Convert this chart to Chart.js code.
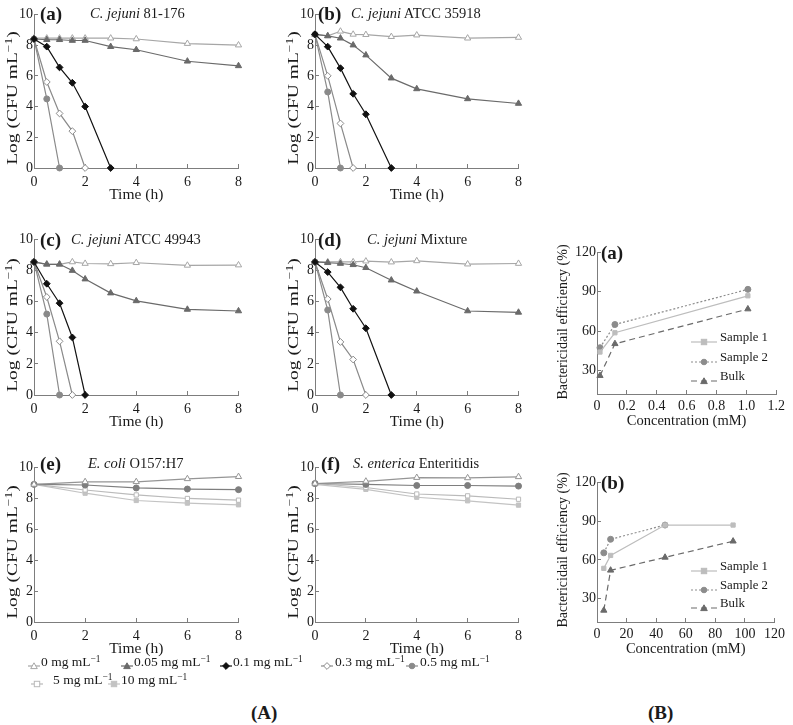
<!DOCTYPE html>
<html>
<head>
<meta charset="utf-8">
<script src="https://cdn.jsdelivr.net/npm/chart.js@4.4.1/dist/chart.umd.min.js"></script>
<style>
  body { margin: 0; background: #fff; }
  #page { position: relative; width: 793px; height: 725px; overflow: hidden;
          font-family: 'Liberation Serif', 'Times New Roman', serif; color: #1a1a1a; }
  #page canvas { position: absolute; }
  .lbl { position: absolute; white-space: nowrap; line-height: 1; }
  .pl { font-weight: bold; font-size: 19px; }
  .ttl { font-size: 14.5px; }
  .lg { font-size: 13.5px; }
  .lgb { font-size: 12.8px; }
  sup { font-size: 70%; line-height: 0; vertical-align: 0.45em; }
  .lgs { position: absolute; }
  .rot { position: absolute; white-space: nowrap; line-height: 1; }
</style>
</head>
<body>
<div id="page"></div>
<script>
// sampling times (h)
const tFull = [0, 0.5, 1, 1.5, 2, 3, 4, 6, 8];
const tCoarse = [0, 2, 4, 6, 8];

// (a) C. jejuni 81-176
const a_0 = [8.45, 8.45, 8.45, 8.45, 8.45, 8.45, 8.4, 8.1, 8.0];
const a_005 = [8.4, 8.35, 8.35, 8.3, 8.3, 7.9, 7.7, 6.95, 6.65];
const a_01 = [8.4, 7.9, 6.55, 5.55, 4.0, 0];
const a_03 = [8.4, 5.6, 3.55, 2.4, 0];
const a_05 = [8.4, 4.5, 0];

// (b) C. jejuni ATCC 35918
const b_0 = [8.7, 8.6, 8.9, 8.7, 8.68, 8.55, 8.65, 8.45, 8.5];
const b_005 = [8.7, 8.6, 8.45, 8.0, 7.35, 5.85, 5.15, 4.5, 4.2];
const b_01 = [8.7, 7.9, 6.5, 4.83, 3.5, 0];
const b_03 = [8.7, 6.0, 2.9, 0];
const b_05 = [8.7, 4.95, 0];

// (c) C. jejuni ATCC 49943
const c_0 = [8.55, 8.4, 8.4, 8.55, 8.45, 8.43, 8.5, 8.33, 8.35];
const c_005 = [8.55, 8.4, 8.4, 8.0, 7.45, 6.55, 6.05, 5.5, 5.4];
const c_01 = [8.55, 7.15, 5.9, 3.7, 0];
const c_03 = [8.55, 6.3, 3.45, 0];
const c_05 = [8.55, 5.2, 0];

// (d) C. jejuni Mixture
const d_0 = [8.55, 8.55, 8.55, 8.55, 8.6, 8.54, 8.62, 8.41, 8.45];
const d_005 = [8.55, 8.5, 8.45, 8.37, 8.18, 7.38, 6.67, 5.4, 5.31];
const d_01 = [8.55, 7.9, 6.92, 5.54, 4.29, 0];
const d_03 = [8.55, 6.17, 3.41, 2.28, 0];
const d_05 = [8.55, 5.46, 0];

// (e) E. coli O157:H7
const e_0 = [8.9, 9.07, 9.07, 9.26, 9.4];
const e_05 = [8.9, 8.86, 8.67, 8.6, 8.56];
const e_5 = [8.9, 8.54, 8.22, 7.99, 7.88];
const e_10 = [8.9, 8.33, 7.86, 7.69, 7.58];

// (f) S. enterica Enteritidis
const f_0 = [8.96, 9.1, 9.34, 9.32, 9.39];
const f_05 = [8.96, 8.9, 8.83, 8.83, 8.79];
const f_5 = [8.96, 8.7, 8.28, 8.16, 7.94];
const f_10 = [8.9, 8.58, 8.07, 7.84, 7.56];

// (B) bactericidal efficiency
const concA = [0.02, 0.12, 1.01];
const ba_s1 = [44, 58.7, 86.9];
const ba_s2 = [47.3, 65, 91.8];
const ba_bulk = [26, 50.3, 76.8];

const concB = [4.6, 9.2, 46, 92];
const bb_s1 = [53.5, 63.5, 87, 87];
const bb_s2 = [65.5, 76, 87];
const bb_bulk = [21, 52, 62, 74.5];

const timeTicks = [0, 2, 4, 6, 8];
const logTicks = [0, 2, 4, 6, 8, 10];
const effTicks = [30, 60, 90, 120];
const concATicks = [0, 0.2, 0.4, 0.6, 0.8, 1.0, 1.2];
const concBTicks = [0, 20, 40, 60, 80, 100, 120];

const FONT = "'Liberation Serif', 'Times New Roman', serif";
const AX = '#7d7d7d', TXT = '#1a1a1a';

const ST = {
  c0:   { color: '#a6a6a6', fill: '#ffffff', point: 'triangle', r: 3.6 },
  c0g:  { color: '#959595', fill: '#ffffff', point: 'triangle', r: 3.6 },
  c005: { color: '#6a6a6a', fill: '#6a6a6a', point: 'triangle', r: 3.6 },
  c01:  { color: '#111111', fill: '#111111', point: 'rectRot', r: 3.4 },
  c03:  { color: '#8a8a8a', fill: '#ffffff', point: 'rectRot', r: 3.4 },
  c05:  { color: '#8a8a8a', fill: '#8a8a8a', point: 'circle', r: 3 },
  c05g: { color: '#7e7e7e', fill: '#7e7e7e', point: 'circle', r: 3 },
  c5:   { color: '#bababa', fill: '#ffffff', point: 'rect', r: 3 },
  c10:  { color: '#c3c3c3', fill: '#c3c3c3', point: 'rect', r: 3 },
  s1:   { color: '#bdbdbd', fill: '#bdbdbd', point: 'rect', r: 3, dash: [] },
  s2:   { color: '#8c8c8c', fill: '#8c8c8c', point: 'circle', r: 3, dash: [2, 2] },
  bulk: { color: '#6a6a6a', fill: '#6a6a6a', point: 'triangle', r: 3.6, dash: [6, 4] }
};

const page = document.getElementById('page');

function ds(label, xs, ys, st) {
  return {
    label,
    data: ys.map((v, i) => ({ x: xs[i], y: v })),
    borderColor: st.color, backgroundColor: st.fill,
    pointBorderColor: st.color, pointBackgroundColor: st.fill,
    pointStyle: st.point, pointRadius: st.r, pointBorderWidth: 1,
    borderWidth: 1.2, borderDash: st.dash || [], tension: 0, clip: false
  };
}

function killSets(v0, v005, v01, v03, v05) {
  return [
    ds('0.1', tFull, v01, ST.c01),
    ds('0.3', tFull, v03, ST.c03),
    ds('0.5', tFull, v05, ST.c05),
    ds('0.05', tFull, v005, ST.c005),
    ds('0', tFull, v0, ST.c0)
  ];
}
function gramNegSets(v0, v05, v5, v10) {
  return [
    ds('0', tCoarse, v0, ST.c0g),
    ds('0.5', tCoarse, v05, ST.c05g),
    ds('5', tCoarse, v5, ST.c5),
    ds('10', tCoarse, v10, ST.c10)
  ];
}

// rect = plot area [left, top, right, bottom] on the page
function plot(rect, o) {
  const [L, T, R, B] = rect.map(Math.round);
  const padT = o.padT ?? 10, padR = o.padR ?? 10;
  const left = L - o.yW, top = T - padT;
  const w = R + padR - left, h = B + o.xH - top;
  const cv = document.createElement('canvas');
  cv.width = w; cv.height = h;
  cv.style.left = left + 'px'; cv.style.top = top + 'px';
  cv.style.width = w + 'px'; cv.style.height = h + 'px';
  page.appendChild(cv);
  const tickFont = { family: FONT, size: o.tickSize || 14 };
  const titleFont = { family: FONT, size: o.titleSize || 15.5 };
  new Chart(cv, {
    type: 'line',
    data: { datasets: o.datasets },
    options: {
      responsive: false, animation: false, devicePixelRatio: 1,
      layout: { padding: { top: padT, right: padR, left: 0, bottom: 0 } },
      plugins: { legend: { display: false }, tooltip: { enabled: false } },
      scales: {
        x: {
          type: 'linear', min: o.xMin, max: o.xMax,
          afterFit: s => { s.height = o.xH; },
          afterBuildTicks: s => { s.ticks = o.xTicks.map(v => ({ value: v })); },
          ticks: { font: tickFont, color: TXT, padding: o.xTickPad ?? 10, maxRotation: 0, autoSkip: false,
                   callback: o.xFmt || (v => String(v)) },
          grid: { drawOnChartArea: false, color: AX, tickLength: -4 },
          border: { color: AX, width: 1 },
          title: { display: !!o.xTitle, text: o.xTitle, font: titleFont, color: TXT,
                   padding: { top: 0, bottom: o.xTitlePad ?? 0 } }
        },
        y: {
          min: o.yMin, max: o.yMax,
          afterFit: s => { s.width = o.yW; },
          afterBuildTicks: s => { s.ticks = o.yTicks.map(v => ({ value: v })); },
          ticks: { font: tickFont, color: TXT, padding: o.yTickPad ?? 5, autoSkip: false },
          grid: { drawOnChartArea: false, color: AX, tickLength: -4 },
          border: { color: AX, width: 1 }
        }
      }
    }
  });
}

function killPlot(rect, sets) {
  plot(rect, {
    datasets: sets, xMin: 0, xMax: 8, yMin: 0, yMax: 10,
    xTicks: timeTicks, yTicks: logTicks, yW: 33, xH: 36, xTitle: 'Time (h)'
  });
}

killPlot([33.5, 11, 242, 168], killSets(a_0, a_005, a_01, a_03, a_05));
killPlot([315, 11, 522, 168], killSets(b_0, b_005, b_01, b_03, b_05));
killPlot([33.5, 236, 242, 395], killSets(c_0, c_005, c_01, c_03, c_05));
killPlot([315, 236, 522, 395], killSets(d_0, d_005, d_01, d_03, d_05));
killPlot([33.5, 464, 242, 622], gramNegSets(e_0, e_05, e_5, e_10));
killPlot([315, 464, 522, 622], gramNegSets(f_0, f_05, f_5, f_10));

function effPlot(rect, xs, s1, s2, bulk, xMax, xTicks, xFmt) {
  plot(rect, {
    datasets: [ds('Sample 1', xs, s1, ST.s1), ds('Sample 2', xs, s2, ST.s2), ds('Bulk', xs, bulk, ST.bulk)],
    xMin: 0, xMax, yMin: 12, yMax: 120, xTicks, yTicks: effTicks, xFmt,
    yW: 30, xH: 36, padR: 12, tickSize: 14, titleSize: 14.5, xTickPad: 8, xTitle: 'Concentration (mM)'
  });
}
effPlot([597, 249, 781, 394], concA, ba_s1, ba_s2, ba_bulk, 1.2, concATicks, v => v === 0 ? '0' : v.toFixed(1));
effPlot([597, 479, 781, 622], concB, bb_s1, bb_s2, bb_bulk, 120, concBTicks, v => String(v));

// text overlays
function lbl(html, x, y, cls) {
  const d = document.createElement('div');
  d.className = 'lbl ' + cls;
  d.innerHTML = html;
  d.style.left = x + 'px'; d.style.top = y + 'px';
  page.appendChild(d);
  return d;
}
lbl('(a)', 40, 4, 'pl');   lbl('<i>C. jejuni</i> 81-176', 90, 6, 'ttl');
lbl('(b)', 318, 4, 'pl');  lbl('<i>C. jejuni</i> ATCC 35918', 351, 6, 'ttl');
lbl('(c)', 40, 230, 'pl'); lbl('<i>C. jejuni</i> ATCC 49943', 71, 232, 'ttl');
lbl('(d)', 318, 230, 'pl'); lbl('<i>C. jejuni</i> Mixture', 367, 232, 'ttl');
lbl('(e)', 40, 454, 'pl'); lbl('<i>E. coli</i> O157:H7', 88, 456, 'ttl');
lbl('(f)', 321, 454, 'pl'); lbl('<i>S. enterica</i> Enteritidis', 353, 456, 'ttl');
lbl('(a)', 601, 243, 'pl');
lbl('(b)', 601, 473, 'pl');
lbl('(A)', 251, 703, 'pl');
lbl('(B)', 648, 703, 'pl');

// rotated axis titles (centre x, centre y, horizontal stretch along the text)
function rot(html, cx, cy, size, stretch) {
  const d = document.createElement('div');
  d.className = 'rot'; d.innerHTML = html;
  d.style.fontSize = size + 'px';
  d.style.left = cx + 'px'; d.style.top = cy + 'px';
  d.style.transform = `translate(-50%, -50%) rotate(-90deg) scaleX(${stretch})`;
  page.appendChild(d);
}
const logTitle = 'Log (CFU mL<sup>\u22121</sup>)';
rot(logTitle, 12, 98, 15, 1.3);
rot(logTitle, 293, 98, 15, 1.3);
rot(logTitle, 12, 325, 15, 1.3);
rot(logTitle, 293, 325, 15, 1.3);
rot(logTitle, 12, 552, 15, 1.3);
rot(logTitle, 293, 552, 15, 1.3);
rot('Bactericidail efficiency (%)', 563, 322, 14, 1);
rot('Bactericidail efficiency (%)', 563, 550, 14, 1);

function markerSvg(st, len) {
  const c = st.color, f = st.fill, m = len / 2;
  let shape = '';
  if (st.point === 'triangle') shape = `<polygon points="${m},1.8 ${m + 3.3},7.6 ${m - 3.3},7.6" fill="${f}" stroke="${c}"/>`;
  else if (st.point === 'rectRot') shape = `<polygon points="${m},1.6 ${m + 3.4},5 ${m},8.4 ${m - 3.4},5" fill="${f}" stroke="${c}"/>`;
  else if (st.point === 'circle') shape = `<circle cx="${m}" cy="5" r="2.8" fill="${f}" stroke="${c}"/>`;
  else shape = `<rect x="${m - 2.7}" y="2.3" width="5.4" height="5.4" fill="${f}" stroke="${c}"/>`;
  const dash = st.dash && st.dash.length ? ` stroke-dasharray="${st.dash.join(',')}"` : '';
  return `<svg width="${len}" height="10" viewBox="0 0 ${len} 10"><line x1="0" y1="5" x2="${len}" y2="5" stroke="${c}" stroke-width="1.2"${dash}/>${shape}</svg>`;
}
function legendItem(st, len, mx, tx, cy, html, cls) {
  const s = document.createElement('div');
  s.className = 'lgs';
  s.style.left = mx + 'px'; s.style.top = (cy - 5) + 'px'; s.style.height = '10px';
  s.innerHTML = markerSvg(st, len);
  page.appendChild(s);
  lbl(html, tx, cy - 7, cls);
}
const unit = ' mg mL<sup>\u22121</sup>';
legendItem(ST.c0, 12, 28, 41, 662, '0' + unit, 'lg');
legendItem(ST.c005, 12, 121, 134, 662, '0.05' + unit, 'lg');
legendItem(ST.c01, 12, 220, 233, 662, '0.1' + unit, 'lg');
legendItem(ST.c03, 12, 321, 335, 662, '0.3' + unit, 'lg');
legendItem(ST.c05, 12, 406, 420, 662, '0.5' + unit, 'lg');
legendItem(ST.c5, 12, 31, 53, 680, '5' + unit, 'lg');
legendItem(ST.c10, 12, 108, 121, 680, '10' + unit, 'lg');

legendItem(ST.s1, 26, 691, 720, 338, 'Sample 1', 'lgb');
legendItem(ST.s2, 26, 691, 720, 358, 'Sample 2', 'lgb');
legendItem(ST.bulk, 26, 691, 720, 377, 'Bulk', 'lgb');
legendItem(ST.s1, 26, 691, 720, 567, 'Sample 1', 'lgb');
legendItem(ST.s2, 26, 691, 720, 586, 'Sample 2', 'lgb');
legendItem(ST.bulk, 26, 691, 720, 604, 'Bulk', 'lgb');
</script>
</body>
</html>
